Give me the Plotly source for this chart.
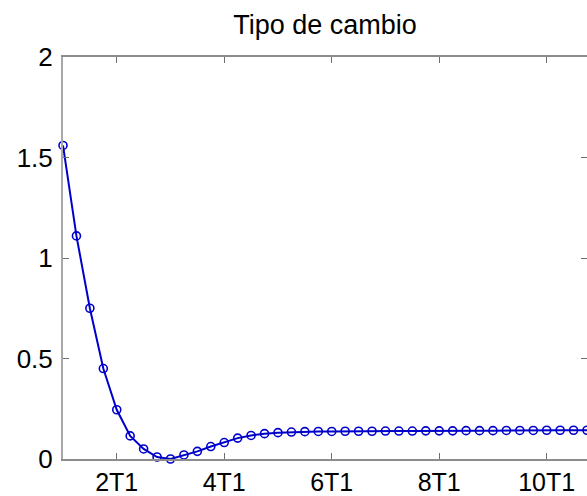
import plotly.graph_objects as go

# Data (x in units of T1)
x_vals = [1.00, 1.25, 1.50, 1.75, 2.00, 2.25, 2.50, 2.75, 3.00, 3.25,
          3.50, 3.75, 4.00, 4.25, 4.50, 4.75, 5.00, 5.25, 5.50, 5.75,
          6.00, 6.25, 6.50, 6.75, 7.00, 7.25, 7.50, 7.75, 8.00, 8.25,
          8.50, 8.75, 9.00, 9.25, 9.50, 9.75, 10.00, 10.25, 10.50, 10.75]
y_vals = [1.56, 1.11, 0.75, 0.45, 0.245, 0.115, 0.05, 0.01, 0.0, 0.02,
          0.038, 0.062, 0.082, 0.104, 0.117, 0.126, 0.131, 0.134, 0.136, 0.137,
          0.137, 0.138, 0.138, 0.138, 0.139, 0.139, 0.139, 0.140, 0.140, 0.140,
          0.141, 0.141, 0.141, 0.142, 0.142, 0.142, 0.143, 0.143, 0.143, 0.143]

x_tickvals = [2, 4, 6, 8, 10]
x_ticktext = ["2T1", "4T1", "6T1", "8T1", "10T1"]
y_tickvals = [0, 0.5, 1, 1.5, 2]
y_ticktext = ["0", "0.5", "1", "1.5", "2"]
title_text = "Tipo de cambio"

fig = go.Figure()
fig.add_trace(go.Scatter(
    x=x_vals, y=y_vals, mode="lines+markers",
    line=dict(color="#0000cc", width=2),
    marker=dict(symbol="circle-open", size=8, color="#0000cc", line=dict(width=1.6)),
    cliponaxis=False, showlegend=False,
))

font = dict(family="Liberation Sans, Arial, sans-serif", color="black")

fig.update_layout(
    width=587, height=496,
    margin=dict(l=63, r=0, t=57, b=37, autoexpand=False),
    paper_bgcolor="white", plot_bgcolor="white",
    title=dict(text=title_text, x=0.5, xref="paper", xanchor="center",
               y=1 - 25 / 496, yref="container", yanchor="middle",
               font=dict(size=27, **font)),
)
fig.update_xaxes(
    range=[1, 10.75], tickvals=x_tickvals, ticktext=x_ticktext,
    showgrid=False, zeroline=False, showline=True, linecolor="#8c8c8c", linewidth=2,
    mirror="ticks", ticks="inside", ticklen=6, tickcolor="#6e6e6e", tickwidth=1,
    tickfont=dict(size=25, **font), ticklabelstandoff=0,
)
fig.update_yaxes(
    range=[0, 2], tickvals=y_tickvals, ticktext=y_ticktext,
    showgrid=False, zeroline=False, showline=True, linecolor="#a8a8a8", linewidth=2,
    mirror="ticks", ticks="inside", ticklen=6, tickcolor="#6e6e6e", tickwidth=1,
    tickfont=dict(size=26, **font), ticklabelstandoff=3,
)

fig.write_html("out.html", config={"displayModeBar": False},
               post_script="document.body.style.margin='0px';document.body.style.overflow='hidden';")
